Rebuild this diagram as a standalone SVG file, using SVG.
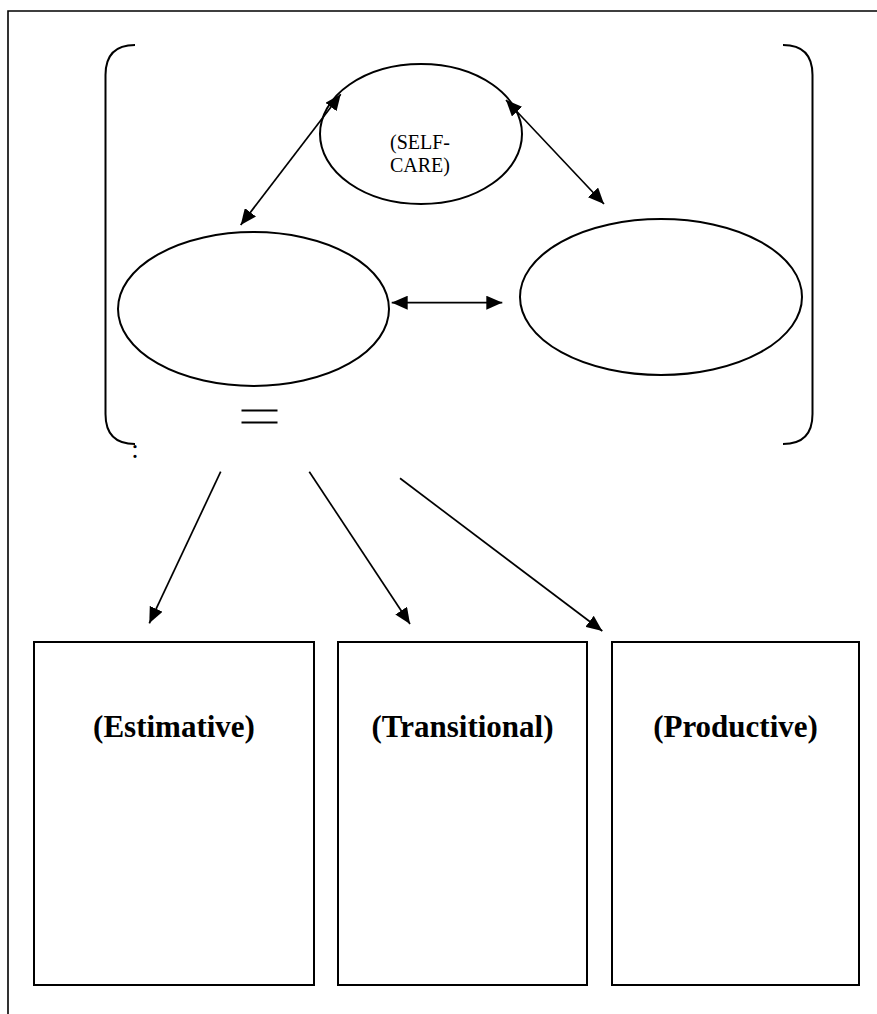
<svg xmlns="http://www.w3.org/2000/svg" width="877" height="1014" viewBox="0 0 877 1014">
  <style>
    .frame { fill: none; stroke: #000; stroke-width: 1.6; }
    .shape { fill: none; stroke: #000; stroke-width: 2; }
    .bracket { fill: none; stroke: #000; stroke-width: 2; }
    .link { fill: none; stroke: #000; stroke-width: 1.7; }
    .small { font-family: "Liberation Serif", "Times New Roman", serif; font-size: 20px; fill: #000; text-anchor: middle; }
    .label { font-family: "Liberation Serif", "Times New Roman", serif; font-size: 31px; font-weight: bold; fill: #000; text-anchor: middle; }
  </style>
  <defs>
    <marker id="head" viewBox="0 0 16 14" refX="16" refY="7" markerWidth="16" markerHeight="14" markerUnits="userSpaceOnUse" orient="auto-start-reverse">
      <path d="M0,0 L16,7 L0,14 z" fill="#000"/>
    </marker>
  </defs>

  <rect width="877" height="1014" fill="#fff"/>

  <!-- page frame (left and top edges) -->
  <path class="frame" d="M8,1014 V11 H877"/>

  <!-- brackets enclosing the three ovals -->
  <g id="brackets">
    <path class="bracket" d="M135,45 Q105.5,45 105.5,75 V414 Q105.5,444 135,444"/>
    <path class="bracket" d="M783,45 Q812.5,45 812.5,75 V414 Q812.5,444 783,444"/>
    <text x="135" y="458" style="font-family:'Liberation Serif','Times New Roman',serif;font-size:27px" text-anchor="middle">:</text>
  </g>

  <!-- ovals -->
  <g id="self-care">
    <ellipse class="shape" cx="421" cy="134" rx="101" ry="70"/>
    <text class="small" x="420" y="149">(SELF-</text>
    <text class="small" x="420" y="172">CARE)</text>
  </g>
  <g id="left-oval">
    <ellipse class="shape" cx="253.5" cy="309" rx="135.5" ry="77"/>
  </g>
  <g id="right-oval">
    <ellipse class="shape" cx="661" cy="297" rx="141" ry="78"/>
  </g>

  <!-- double bar under the left oval -->
  <g id="equals">
    <line x1="241.5" y1="410.5" x2="277.5" y2="410.5" stroke="#000" stroke-width="2"/>
    <line x1="241.5" y1="422.5" x2="277.5" y2="422.5" stroke="#000" stroke-width="2"/>
  </g>

  <!-- stage boxes -->
  <g id="estimative">
    <rect class="shape" x="34" y="642" width="280" height="343"/>
    <text class="label" x="174" y="737">(Estimative)</text>
  </g>
  <g id="transitional">
    <rect class="shape" x="338" y="642" width="249" height="343"/>
    <text class="label" x="462.5" y="737">(Transitional)</text>
  </g>
  <g id="productive">
    <rect class="shape" x="612" y="642" width="247" height="343"/>
    <text class="label" x="735.5" y="737">(Productive)</text>
  </g>

  <!-- connectors -->
  <g id="connectors">
    <line class="link" x1="240.7" y1="225" x2="340.7" y2="94.3" marker-start="url(#head)" marker-end="url(#head)"/>
    <line class="link" x1="506" y1="100" x2="604" y2="204" marker-start="url(#head)" marker-end="url(#head)"/>
    <line class="link" x1="391.7" y1="302.7" x2="502.3" y2="302.7" marker-start="url(#head)" marker-end="url(#head)"/>
    <line class="link" x1="220.7" y1="471.7" x2="149.3" y2="623.3" marker-end="url(#head)"/>
    <line class="link" x1="309.3" y1="471.7" x2="410" y2="624" marker-end="url(#head)"/>
    <line class="link" x1="400" y1="478.3" x2="602.3" y2="631" marker-end="url(#head)"/>
  </g>
</svg>
